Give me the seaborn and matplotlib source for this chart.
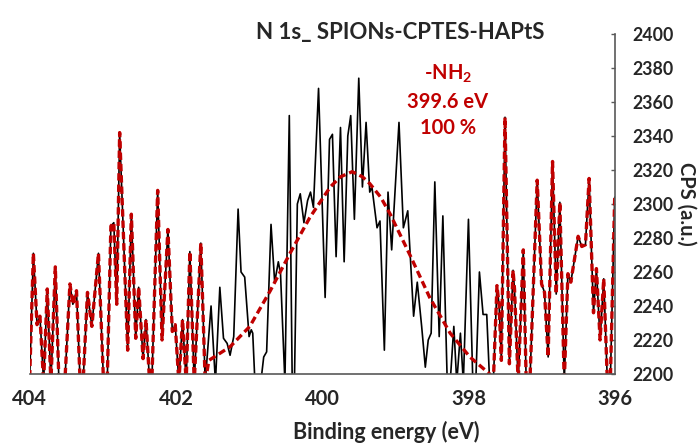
import matplotlib.pyplot as plt
import numpy as np
import pandas as pd
import seaborn as sns

# N 1s spectrum (binding energy in eV, counts)
energy = [
    404.00, 403.95, 403.90, 403.86, 403.81, 403.76, 403.71, 403.65, 403.60, 403.52,
    403.45, 403.41, 403.36, 403.31, 403.27, 403.21, 403.15, 403.06, 402.99, 402.94,
    402.89, 402.85, 402.81, 402.77, 402.66, 402.61, 402.55, 402.51, 402.45, 402.41,
    402.36, 402.33, 402.25, 402.19, 402.11, 402.05, 402.01, 401.96, 401.91, 401.86,
    401.81, 401.75, 401.66, 401.60, 401.52, 401.46, 401.40, 401.35, 401.30, 401.26,
    401.21, 401.15, 401.11, 401.06, 401.00, 400.97, 400.95, 400.92, 400.84, 400.80,
    400.76, 400.70, 400.65, 400.60, 400.57, 400.51, 400.45, 400.41, 400.38, 400.34,
    400.30, 400.25, 400.20, 400.16, 400.12, 400.05, 399.96, 399.90, 399.86, 399.81,
    399.75, 399.70, 399.65, 399.61, 399.56, 399.50, 399.45, 399.40, 399.35, 399.32,
    399.25, 399.21, 399.15, 399.10, 399.05, 398.95, 398.89, 398.83, 398.75, 398.70,
    398.64, 398.59, 398.55, 398.51, 398.46, 398.40, 398.35, 398.29, 398.25, 398.20,
    398.16, 398.11, 398.07, 398.00, 397.94, 397.90, 397.85, 397.80, 397.75, 397.71,
    397.66, 397.61, 397.58, 397.55, 397.50, 397.44, 397.39, 397.37, 397.32, 397.25,
    397.21, 397.16, 397.06, 397.00, 396.96, 396.91, 396.85, 396.80, 396.75, 396.69,
    396.64, 396.60, 396.50, 396.45, 396.40, 396.35, 396.29, 396.25, 396.20, 396.15,
    396.10, 396.06, 396.00,
]
cps = [
    2198, 2271, 2229, 2234, 2195, 2250, 2195, 2263, 2195, 2195,
    2253, 2241, 2249, 2195, 2195, 2248, 2228, 2271, 2195, 2195,
    2287, 2289, 2241, 2342, 2214, 2294, 2221, 2251, 2209, 2232,
    2195, 2195, 2308, 2220, 2285, 2225, 2229, 2195, 2232, 2195,
    2272, 2195, 2277, 2195, 2240, 2195, 2251, 2221, 2218, 2211,
    2222, 2297, 2260, 2257, 2222, 2226, 2224, 2195, 2195, 2210,
    2213, 2288, 2254, 2266, 2259, 2195, 2352, 2195, 2195, 2300,
    2306, 2289, 2302, 2307, 2298, 2368, 2245, 2338, 2341, 2269,
    2345, 2266, 2340, 2352, 2291, 2374, 2310, 2348, 2307, 2310,
    2286, 2290, 2214, 2307, 2273, 2348, 2286, 2296, 2234, 2254,
    2228, 2204, 2220, 2224, 2313, 2222, 2293, 2195, 2195, 2228,
    2195, 2224, 2195, 2291, 2195, 2195, 2260, 2235, 2235, 2195,
    2195, 2252, 2240, 2208, 2351, 2206, 2261, 2250, 2195, 2273,
    2195, 2195, 2314, 2253, 2248, 2210, 2325, 2247, 2301, 2195,
    2259, 2254, 2281, 2275, 2276, 2315, 2236, 2262, 2220, 2256,
    2195, 2195, 2304,
]

# fitted -NH2 component inside the fit window
fit_energy = [401.55, 401.26, 400.99, 400.71, 400.44, 400.17, 399.89, 399.75,
              399.59, 399.45, 399.35, 399.20, 399.07, 398.80, 398.53, 398.25,
              397.98, 397.71]
fit_cps = [2208, 2216, 2228, 2249, 2271, 2292, 2310, 2316,
           2319, 2316, 2312, 2304, 2294, 2270, 2245, 2224,
           2210, 2200]
fit_window = (397.71, 401.60)

peak_label = "-NH$_\\mathregular{2}$\n399.6 eV\n100 %"
x_ticks = [404, 402, 400, 398, 396]
y_ticks = list(range(2200, 2401, 20))

RED = "#C00000"

sns.set_style("white")
plt.rcParams["font.family"] = ["Lato", "DejaVu Sans"]
plt.rcParams["font.weight"] = "bold"

df = pd.DataFrame({"energy": energy, "cps": cps})
hi = df[df["energy"] >= fit_window[1]]
lo = df[df["energy"] < fit_window[0]]
env = pd.concat([hi, pd.DataFrame({"energy": fit_energy, "cps": fit_cps}), lo],
                ignore_index=True)

fig = plt.figure(figsize=(6.99, 4.45), dpi=100)
ax = fig.add_axes([0.0425, 0.1596, 0.8369, 0.764])

sns.lineplot(data=df, x="energy", y="cps", color="black", linewidth=1.2,
             estimator=None, sort=False, ax=ax)
sns.lineplot(data=env, x="energy", y="cps", color=RED, linewidth=2.4,
             estimator=None, sort=False, ax=ax)
ax.lines[-1].set_dashes((2.2, 1.2))

ax.set_xlim(404, 396)
ax.set_ylim(2200, 2400)
ax.set_xticks(x_ticks)
ax.set_yticks(y_ticks)

ax.yaxis.tick_right()
ax.yaxis.set_label_position("right")
for side in ["top", "left"]:
    ax.spines[side].set_visible(False)
for side in ["bottom", "right"]:
    ax.spines[side].set_color("#595959")
    ax.spines[side].set_linewidth(1.2)

ax.tick_params(axis="x", direction="out", length=4, width=1, color="#595959",
               labelsize=14.5, pad=7)
ax.tick_params(axis="y", direction="in", length=3, width=1, color="#595959",
               labelsize=12.8, pad=13)
for lab in ax.get_xticklabels() + ax.get_yticklabels():
    lab.set_fontweight("bold")

ax.set_xlabel("Binding energy (eV)", fontsize=15.5, fontweight="bold")
ax.xaxis.set_label_coords(0.609, -0.138)
ax.set_ylabel("CPS (a.u.)", fontsize=14.5, fontweight="bold", rotation=270,
              va="center")
ax.yaxis.set_label_coords(1.122, 0.5)

fig.text(0.572, 0.926, "N 1s_ SPIONs-CPTES-HAPtS", fontsize=16,
         fontweight="bold", ha="center", va="center")
ax.text(0.715, 0.915, peak_label, transform=ax.transAxes, color=RED,
        fontsize=14.5, fontweight="bold", ha="center", va="top", linespacing=1.4)

fig.savefig("out.png", dpi=100)
